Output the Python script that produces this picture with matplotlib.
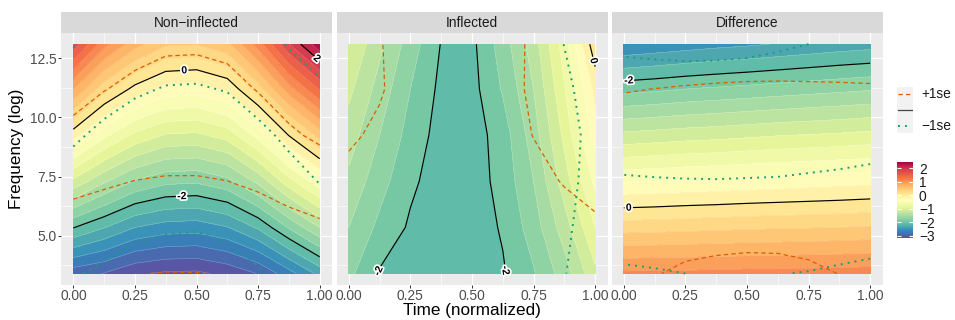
import matplotlib
matplotlib.use('Agg')
import matplotlib.pyplot as plt
import matplotlib.patheffects as pe
import numpy as np
from matplotlib.colors import Normalize
from matplotlib.cm import ScalarMappable

plt.rcParams['font.family'] = ['Liberation Sans', 'DejaVu Sans']
plt.rcParams['contour.negative_linestyle'] = 'solid'

# grid: columns = time, rows = frequency
times = [0, 0.125, 0.25, 0.375, 0.5, 0.625, 0.75, 0.875, 1]
freqs = [3.4, 5.35, 7.3, 9.25, 11.2, 13.1]
panel_names = ['Non\u2212inflected', 'Inflected', 'Difference']

fit_noninfl = [
    [-2.92, -3.01, -3.17, -3.23, -3.24, -3.15, -2.99, -2.68, -2.34],
    [-1.99, -2.19, -2.40, -2.49, -2.51, -2.41, -2.17, -1.78, -1.40],
    [-1.05, -1.37, -1.62, -1.75, -1.77, -1.66, -1.35, -0.88, -0.46],
    [-0.12, -0.55, -0.85, -1.02, -1.04, -0.92, -0.53, 0.01, 0.48],
    [0.81, 0.27, -0.07, -0.28, -0.31, -0.17, 0.29, 0.91, 1.42],
    [1.73, 1.07, 0.68, 0.43, 0.41, 0.55, 1.10, 1.79, 2.34],
]
se_noninfl = [
    [1.00, 0.85, 0.80, 0.80, 0.78, 0.80, 0.90, 1.00, 1.20],
    [0.72, 0.65, 0.60, 0.57, 0.56, 0.58, 0.65, 0.75, 0.85],
    [0.50, 0.45, 0.40, 0.35, 0.33, 0.35, 0.40, 0.45, 0.50],
    [0.30, 0.28, 0.26, 0.25, 0.25, 0.25, 0.25, 0.23, 0.22],
    [0.25, 0.23, 0.22, 0.22, 0.22, 0.22, 0.23, 0.26, 0.30],
    [0.35, 0.30, 0.27, 0.25, 0.25, 0.25, 0.28, 0.30, 0.45],
]
fit_infl = [
    [-1.75, -2.02, -2.10, -2.15, -2.10, -2.02, -1.82, -1.50, -1.05],
    [-1.60, -1.85, -2.03, -2.12, -2.10, -1.98, -1.70, -1.30, -0.80],
    [-1.45, -1.72, -1.96, -2.10, -2.10, -1.93, -1.60, -1.10, -0.55],
    [-1.30, -1.60, -1.88, -2.08, -2.10, -1.90, -1.50, -0.95, -0.30],
    [-1.15, -1.48, -1.80, -2.05, -2.07, -1.78, -1.40, -0.82, -0.15],
    [-1.00, -1.35, -1.70, -2.01, -2.05, -1.70, -1.30, -0.70, 0.15],
]
se_infl = [
    [0.85, 0.75, 0.70, 0.68, 0.68, 0.75, 0.95, 1.45, 1.80],
    [0.75, 0.68, 0.62, 0.60, 0.60, 0.65, 0.80, 1.05, 1.50],
    [0.70, 0.60, 0.55, 0.50, 0.50, 0.55, 0.65, 0.85, 0.85],
    [0.62, 0.50, 0.45, 0.42, 0.42, 0.45, 0.48, 0.55, 0.65],
    [0.60, 0.47, 0.45, 0.42, 0.42, 0.45, 0.50, 0.58, 0.70],
    [0.80, 0.62, 0.55, 0.50, 0.50, 0.55, 0.60, 0.72, 0.90],
]
fit_diff = [
    [1.04, 1.05, 1.05, 1.06, 1.07, 1.07, 1.08, 1.09, 1.10],
    [0.31, 0.32, 0.34, 0.35, 0.37, 0.38, 0.39, 0.40, 0.42],
    [-0.42, -0.40, -0.38, -0.36, -0.34, -0.32, -0.30, -0.28, -0.26],
    [-1.15, -1.12, -1.09, -1.07, -1.04, -1.01, -0.99, -0.97, -0.94],
    [-1.87, -1.84, -1.80, -1.77, -1.74, -1.71, -1.68, -1.65, -1.62],
    [-2.58, -2.54, -2.50, -2.46, -2.43, -2.39, -2.35, -2.31, -2.28],
]
se_diff = [
    [1.20, 1.08, 0.95, 0.90, 0.88, 0.90, 0.97, 1.10, 1.20],
    [0.75, 0.68, 0.62, 0.60, 0.60, 0.60, 0.65, 0.80, 0.95],
    [0.55, 0.48, 0.43, 0.40, 0.40, 0.40, 0.45, 0.50, 0.58],
    [0.35, 0.30, 0.27, 0.25, 0.25, 0.26, 0.30, 0.35, 0.40],
    [0.18, 0.15, 0.13, 0.12, 0.12, 0.14, 0.18, 0.22, 0.27],
    [0.46, 0.38, 0.30, 0.26, 0.26, 0.30, 0.35, 0.42, 0.50],
]

fits = [fit_noninfl, fit_infl, fit_diff]
ses = [se_noninfl, se_infl, se_diff]
label_pos = [[(0.45, 12.04), (0.44, 6.71), (0.985, 12.45)],
             [(0.11, 3.55), (0.645, 3.55), (0.995, 12.4)],
             [(0.02, 11.55), (0.02, 6.19)]]

W, H = 955, 320
fig = plt.figure(figsize=(W / 100, H / 100), dpi=100)
cmap = plt.get_cmap('Spectral_r')
norm = Normalize(-3.17, 2.47)
fill_levels = np.arange(-3.4, 2.61, 0.2)
line_levels = [-4, -2, 0, 2]
col_plus = '#D95F02'
col_minus = '#1B9E77'

X, Y = np.meshgrid(times, freqs)
lefts = [61, 336.5, 611.5]
pw = 271
ax_bot, ax_top = 284.6, 33.3

for i in range(3):
    ax = fig.add_axes([lefts[i] / W, (H - ax_bot) / H, pw / W, (ax_bot - ax_top) / H])
    ax.set_facecolor('#ebebeb')
    for s in ax.spines.values():
        s.set_visible(False)
    ax.set_xlim(-0.05, 1.05)
    ax.set_ylim(2.93, 13.56)
    ax.set_xticks([0, 0.25, 0.5, 0.75, 1])
    ax.set_xticklabels(['0.00', '0.25', '0.50', '0.75', '1.00'])
    ax.set_xticks([0.125, 0.375, 0.625, 0.875], minor=True)
    ax.set_yticks([5, 7.5, 10, 12.5])
    ax.set_yticklabels(['5.0', '7.5', '10.0', '12.5'])
    ax.set_yticks([3.75, 6.25, 8.75, 11.25], minor=True)
    ax.grid(which='major', color='white', lw=0.9)
    ax.grid(which='minor', color='white', lw=0.45)
    ax.set_axisbelow(True)
    ax.tick_params(which='major', length=2.4, width=0.7, color='#333333',
                   labelsize=9.9, labelcolor='#4d4d4d', pad=1)
    ax.tick_params(which='minor', length=0)
    if i > 0:
        ax.tick_params(axis='y', left=False, labelleft=False)

    Z = np.array(fits[i])
    S = np.array(ses[i])
    ax.contourf(X, Y, Z, levels=fill_levels, cmap=cmap, norm=norm)
    ax.contour(X, Y, Z, levels=fill_levels, colors='white', linewidths=0.4, alpha=0.3)
    ax.contour(X, Y, Z - S, levels=line_levels, colors=col_plus, linewidths=0.9,
               linestyles=[(0, (3.5, 2.5))])
    ax.contour(X, Y, Z + S, levels=line_levels, colors=col_minus, linewidths=1.4,
               linestyles=[(0, (1, 2.6))])
    cs = ax.contour(X, Y, Z, levels=line_levels, colors='black', linewidths=0.85,
                    linestyles='solid')
    labs = ax.clabel(cs, manual=label_pos[i], inline=False, fontsize=7.5, fmt='%g')
    for t in labs:
        t.set_fontweight('bold')
        t.set_path_effects([pe.withStroke(linewidth=2.5, foreground='white')])

    # facet strip
    sax = fig.add_axes([lefts[i] / W, (H - ax_top) / H, pw / W, 21.3 / H])
    sax.set_facecolor('#d9d9d9')
    sax.set_xticks([])
    sax.set_yticks([])
    for s in sax.spines.values():
        s.set_visible(False)
    sax.text(0.5, 0.5, panel_names[i], ha='center', va='center', fontsize=9.9,
             color='#1a1a1a', transform=sax.transAxes)

fig.text(471.5 / W, (H - 311) / H, 'Time (normalized)', ha='center', va='center', fontsize=12.3)
fig.text(17 / W, (H - 148.5) / H, 'Frequency (log)', ha='center', va='center',
         rotation=90, fontsize=12.3)

# line legend
lax = fig.add_axes([896.7 / W, (H - 133.3) / H, 16.6 / W, 46.6 / H])
lax.set_facecolor('#f2f2f2')
lax.set_xlim(0, 1)
lax.set_ylim(0, 3)
lax.set_xticks([])
lax.set_yticks([])
for s in lax.spines.values():
    s.set_visible(False)
lax.plot([0.1, 0.9], [2.5, 2.5], color=col_plus, lw=0.9, ls=(0, (3.5, 2.5)))
lax.plot([0.1, 0.9], [1.5, 1.5], color='#444444', lw=0.9)
lax.plot([0.1, 0.9], [0.5, 0.5], color=col_minus, lw=1.4, ls=(0, (1, 2.6)))
lax.text(1.5, 2.5, '+1se', va='center', ha='left', fontsize=9.9, color='#1a1a1a')
lax.text(1.5, 0.5, '\u22121se', va='center', ha='left', fontsize=9.9, color='#1a1a1a')

# colour bar
cax = fig.add_axes([896.7 / W, (H - 238.3) / H, 16.6 / W, 76.6 / H])
cb = fig.colorbar(ScalarMappable(norm=norm, cmap=cmap), cax=cax, ticks=[-3, -2, -1, 0, 1, 2])
cb.outline.set_visible(False)
cax.tick_params(direction='in', length=3.2, width=0.8, color='white', left=True, right=True,
                labelsize=9.9, labelcolor='#1a1a1a', pad=4)

fig.savefig('out.png', dpi=100)
